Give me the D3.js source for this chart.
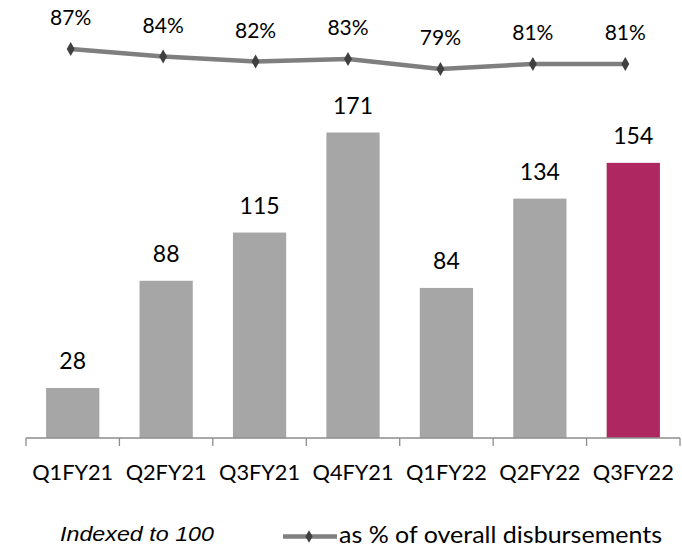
<!DOCTYPE html>
<html><head><meta charset="utf-8">
<script src="https://cdn.jsdelivr.net/npm/d3@7/dist/d3.min.js"></script>
<style>body{margin:0;background:#fff}svg{display:block}</style>
</head><body>
<svg id="chart" width="682" height="549"></svg>
<script>
const categories = ["Q1FY21","Q2FY21","Q3FY21","Q4FY21","Q1FY22","Q2FY22","Q3FY22"];
const indexValues = [28, 88, 115, 171, 84, 134, 154];
const sharePct = [87, 84, 82, 83, 79, 81, 81];
const highlight = ["Q3FY22"];
const legendLabels = ["Indexed to 100", "as % of overall disbursements"];

const svg = d3.select("#chart");
const baseY = 438;
const x = d3.scaleBand().domain(categories).range([26, 680]).paddingInner(0.43).paddingOuter(0.215);
const y = d3.scaleLinear().domain([0, 171]).range([baseY, 132.5]);
const xl = d3.scaleBand().domain(categories).range([24.5, 671.5]);
const yl = d3.scaleLinear().domain([79, 87]).range([69, 49]);

function fitWidth(sel, target) {
  sel.each(function() {
    d3.select(this).attr("textLength", target).attr("lengthAdjust", "spacingAndGlyphs");
  });
}

// bars
svg.append("g").selectAll("rect").data(categories).join("rect")
  .attr("x", d => x(d)).attr("width", x.bandwidth())
  .attr("y", (d,i) => y(indexValues[i])).attr("height", (d,i) => baseY - y(indexValues[i]))
  .attr("fill", d => highlight.includes(d) ? "#AE2761" : "#A6A6A6");

svg.append("g").selectAll("text").data(categories).join("text")
  .attr("x", d => x(d) + x.bandwidth()/2).attr("y", (d,i) => y(indexValues[i]) - 18.6)
  .attr("text-anchor","middle").attr("font-family","Lato").attr("font-size",23).attr("fill","#000")
  .text((d,i) => indexValues[i]);

// axis
const ax = svg.append("g").attr("transform", `translate(0,${baseY})`);
ax.append("line").attr("x1",26).attr("x2",680).attr("stroke","#8c8c8c").attr("stroke-width",1.3);
const edges = d3.range(categories.length+1).map(i => 26 + i*(654/categories.length));
ax.selectAll("line.t").data(edges).join("line").attr("class","t")
  .attr("x1", d=>d).attr("x2", d=>d).attr("y1",0).attr("y2",8).attr("stroke","#8c8c8c").attr("stroke-width",1.3);
const cat = ax.selectAll("text.c").data(categories).join("text").attr("class","c")
  .attr("x", d => x(d) + x.bandwidth()/2).attr("y", 42)
  .attr("text-anchor","middle").attr("font-family","Lato").attr("font-size",21).attr("fill","#000")
  .text(d => d);
fitWidth(cat, 81);

// line
const line = d3.line().x((d,i) => xl(categories[i]) + xl.bandwidth()/2).y(d => yl(d));
svg.append("path").datum(sharePct).attr("d", line).attr("fill","none")
  .attr("stroke","#7f7f7f").attr("stroke-width",4.5).attr("stroke-linejoin","round");
const diamond = d3.symbol().type(d3.symbolDiamond).size(55);
svg.append("g").selectAll("path").data(sharePct).join("path")
  .attr("d", diamond)
  .attr("transform", (d,i) => `translate(${xl(categories[i]) + xl.bandwidth()/2},${yl(d)})`)
  .attr("fill","#404040");
svg.append("g").selectAll("text").data(sharePct).join("text")
  .attr("x", (d,i) => xl(categories[i]) + xl.bandwidth()/2).attr("y", d => yl(d) - 24)
  .attr("text-anchor","middle").attr("font-family","Lato").attr("font-size",21).attr("fill","#000")
  .text(d => d + "%");

// legend
const l1 = svg.append("text").attr("x",60).attr("y",541).attr("font-family","Liberation Sans")
  .attr("font-style","italic").attr("font-size",20.5).attr("fill","#000").text(legendLabels[0]);
fitWidth(l1, 154);
svg.append("line").attr("x1",283).attr("x2",337).attr("y1",536.5).attr("y2",536.5)
  .attr("stroke","#7f7f7f").attr("stroke-width",4.5);
svg.append("path").attr("d", d3.symbol().type(d3.symbolDiamond).size(45)).attr("transform","translate(309,536.5)").attr("fill","#404040");
const l2 = svg.append("text").attr("x",339).attr("y",543).attr("font-family","Lato")
  .attr("font-size",23).attr("fill","#000").text(legendLabels[1]);
fitWidth(l2, 323);
</script>
</body></html>
